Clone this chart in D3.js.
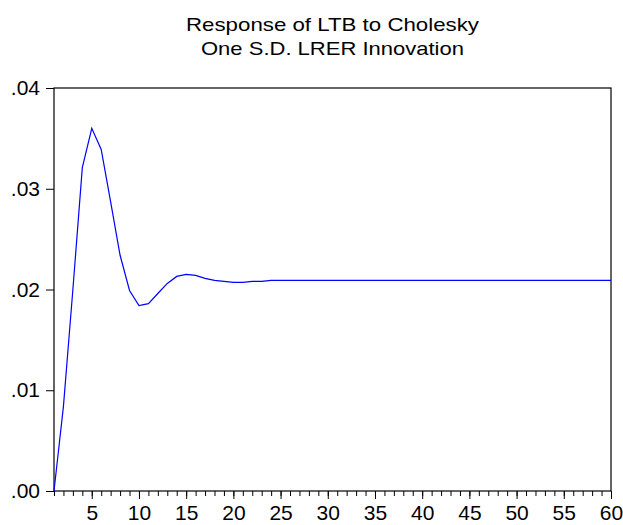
<!DOCTYPE html>
<html lang="en">
<head>
<meta charset="UTF-8">
<title>Response of LTB to Cholesky</title>
<script src="https://d3js.org/d3.v7.min.js"></script>
<style>
    body { margin: 0; background: #fff; }
    text { font-family: "Liberation Sans", Arial, Helvetica, sans-serif; fill: #000; }
</style>
</head>
<body>
<div id="chart"></div>
<script>
    // periods 1..60 and the response values
    var periods = d3.range(1, 61);
    var response = [
        0.0000, 0.0084, 0.0200, 0.0321, 0.0360, 0.0339, 0.0287, 0.0234, 0.0199, 0.0184,
        0.0186, 0.0196, 0.0206, 0.0213, 0.0215, 0.0214, 0.0211, 0.0209, 0.0208, 0.0207,
        0.0207, 0.0208, 0.0208, 0.0209, 0.0209, 0.0209, 0.0209, 0.0209, 0.0209, 0.0209,
        0.0209, 0.0209, 0.0209, 0.0209, 0.0209, 0.0209, 0.0209, 0.0209, 0.0209, 0.0209,
        0.0209, 0.0209, 0.0209, 0.0209, 0.0209, 0.0209, 0.0209, 0.0209, 0.0209, 0.0209,
        0.0209, 0.0209, 0.0209, 0.0209, 0.0209, 0.0209, 0.0209, 0.0209, 0.0209, 0.0209
    ];
    var yTicks = [0, 0.01, 0.02, 0.03, 0.04];
    var xTicks = [5, 10, 15, 20, 25, 30, 35, 40, 45, 50, 55, 60];
    var titleLines = ["Response of LTB to Cholesky", "One S.D. LRER Innovation"];
    var titleWidths = [293, 263];

    var W = 623, H = 525;
    var margin = {top: 88, right: 12, bottom: 34, left: 54};
    var width = W - margin.left - margin.right,
        height = H - margin.top - margin.bottom;

    var svg = d3.select("#chart").append("svg")
        .attr("width", W)
        .attr("height", H);

    var g = svg.append("g")
        .attr("transform", `translate(${margin.left},${margin.top})`);

    var x = d3.scaleLinear().domain([1, 60]).range([0, width]);
    var y = d3.scaleLinear().domain([0, 0.04]).range([height, 0]);

    // frame
    g.append("rect")
        .attr("x", 0).attr("y", 0)
        .attr("width", width).attr("height", height)
        .attr("fill", "none")
        .attr("stroke", "#000")
        .attr("stroke-width", 1.2);

    // minor ticks on x (every period)
    var xMinor = g.append("g")
        .attr("transform", `translate(0,${height})`)
        .call(d3.axisBottom(x).tickValues(periods).tickSize(5).tickFormat(""));
    xMinor.select(".domain").remove();

    // major x ticks with labels
    var xAxis = g.append("g")
        .attr("transform", `translate(0,${height})`)
        .call(d3.axisBottom(x).tickValues(xTicks).tickSize(8).tickPadding(6));
    xAxis.select(".domain").remove();
    xAxis.selectAll("text")
        .attr("font-size", 21)
        .attr("font-family", null);

    // y axis
    var yAxis = g.append("g")
        .call(d3.axisLeft(y).tickValues(yTicks).tickSize(8).tickPadding(6)
            .tickFormat(function (d) { return d3.format(".2f")(d).replace(/^0/, ""); }));
    yAxis.select(".domain").remove();
    yAxis.selectAll("text")
        .attr("font-size", 21)
        .attr("font-family", null);

    g.selectAll(".tick line").attr("stroke", "#000");

    // response line
    var line = d3.line()
        .x(function (d, i) { return x(periods[i]); })
        .y(function (d) { return y(d); });

    g.append("path")
        .datum(response)
        .attr("fill", "none")
        .attr("stroke", "#0000ff")
        .attr("stroke-width", 1.2)
        .attr("d", line);

    // title (the original glyphs are a bit wider than Arial, so stretch to fit)
    svg.append("g").selectAll("text")
        .data(titleLines)
        .enter().append("text")
        .attr("x", margin.left + width / 2)
        .attr("y", function (d, i) { return 31 + i * 24; })
        .attr("text-anchor", "middle")
        .attr("font-size", 19)
        .attr("textLength", function (d, i) { return titleWidths[i]; })
        .attr("lengthAdjust", "spacingAndGlyphs")
        .text(function (d) { return d; });
</script>
</body>
</html>
